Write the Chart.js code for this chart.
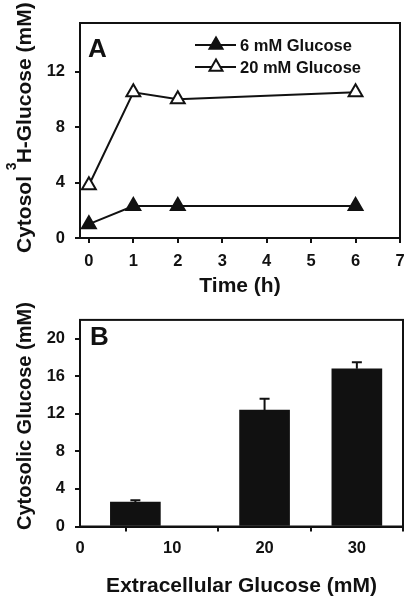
<!DOCTYPE html>
<html>
<head>
<meta charset="utf-8">
<script src="https://cdn.jsdelivr.net/npm/chart.js"></script>
<style>
  html, body { margin: 0; padding: 0; background: #fff; }
  canvas { display: block; }
</style>
</head>
<body>
<canvas id="chart-a" width="414" height="300"></canvas>
<canvas id="chart-b" width="414" height="301"></canvas>
<script>
// Panel A: cytosolic 3H-glucose over time
const timeHours = [0, 1, 2, 6];
const glucose6mM = [1.0, 2.3, 2.3, 2.3];
const glucose20mM = [3.8, 10.5, 10.0, 10.5];
const seriesLabelsA = ['6 mM Glucose', '20 mM Glucose'];
const timeTicks = [0, 1, 2, 3, 4, 5, 6, 7];
const cytosolTicksA = [0, 4, 8, 12];

// Panel B: cytosolic glucose vs extracellular glucose
const extracellularGlucose = [6, 20, 30];
const cytosolicGlucose = [2.6, 12.4, 16.8];
const cytosolicErr = [0.2, 1.2, 0.7];
const extracellularTicks = [0, 10, 20, 30];
const cytosolicTicksB = [0, 4, 8, 12, 16, 20];

const FONT = "'Liberation Sans', Arial, sans-serif";
const INK = '#111';
Chart.defaults.font.family = FONT;
Chart.defaults.font.weight = 'bold';
Chart.defaults.color = INK;
Chart.defaults.animation = false;

// axis with fixed tick list, outward tick marks, no grid
function axis(min, max, ticks, title, o) {
    return {
        type: 'linear',
        min: min,
        max: max,
        offset: false,
        afterBuildTicks: (s) => { s.ticks = ticks.map(v => ({ value: v })); },
        afterFit: o.fit,
        grid: { drawOnChartArea: false, drawTicks: true, tickLength: 5, color: INK, lineWidth: 2 },
        border: { display: true, color: INK, width: 2 },
        ticks: { font: { size: 16.5, weight: 'bold' }, padding: o.tickPad, color: INK },
        title: { display: !!title, text: title || '', font: { size: 21, weight: 'bold' }, padding: o.titlePad, color: INK }
    };
}

// box round the plot area
const framePlugin = {
    id: 'frame',
    afterDatasetsDraw(chart) {
        const { ctx, chartArea: a } = chart;
        ctx.save();
        ctx.strokeStyle = INK;
        ctx.lineWidth = 2;
        ctx.strokeRect(a.left, a.top, a.right - a.left, a.bottom - a.top);
        ctx.restore();
    }
};

function letter(text, x, y) {
    return {
        id: 'letter' + text,
        afterDraw(chart) {
            const ctx = chart.ctx;
            ctx.save();
            ctx.font = 'bold 26px ' + FONT;
            ctx.fillStyle = INK;
            ctx.textBaseline = 'alphabetic';
            ctx.fillText(text, x, y);
            ctx.restore();
        }
    };
}

// rotated y title, drawn piece by piece so a superscript can be raised
// parts: [text, sup?]
function yTitle(parts, baseX, startY, size) {
    return {
        id: 'yTitle',
        afterDraw(chart) {
            const ctx = chart.ctx;
            ctx.save();
            ctx.translate(baseX, startY);
            ctx.rotate(-Math.PI / 2);
            ctx.fillStyle = INK;
            ctx.textBaseline = 'alphabetic';
            let pos = 0;
            parts.forEach(([text, sup]) => {
                ctx.font = 'bold ' + (sup ? 14 : size) + 'px ' + FONT;
                ctx.fillText(text, pos, sup ? -15 : 0);
                pos += ctx.measureText(text).width - (sup ? 1 : 0);
            });
            ctx.restore();
        }
    };
}

function triangle(ctx, cx, cy, r) {
    ctx.beginPath();
    ctx.moveTo(cx, cy - r);
    ctx.lineTo(cx + r * Math.sin(2 * Math.PI / 3), cy + r / 2);
    ctx.lineTo(cx - r * Math.sin(2 * Math.PI / 3), cy + r / 2);
    ctx.closePath();
}

// legend: line segment with marker in the middle
const lineLegend = {
    id: 'lineLegend',
    afterDraw(chart) {
        const ctx = chart.ctx;
        chart.data.datasets.forEach((ds, i) => {
            const y = 45 + i * 22;
            ctx.save();
            ctx.strokeStyle = INK;
            ctx.lineWidth = 2;
            ctx.beginPath();
            ctx.moveTo(195, y);
            ctx.lineTo(236, y);
            ctx.stroke();
            triangle(ctx, 216, y, 7.5);
            ctx.fillStyle = ds.pointBackgroundColor;
            ctx.fill();
            ctx.stroke();
            ctx.font = 'bold 16.5px ' + FONT;
            ctx.fillStyle = INK;
            ctx.textBaseline = 'middle';
            ctx.fillText(ds.label, 240, y + 1);
            ctx.restore();
        });
    }
};

const errorBars = {
    id: 'errorBars',
    afterDatasetsDraw(chart) {
        const { ctx, scales: { x, y } } = chart;
        ctx.save();
        ctx.strokeStyle = INK;
        ctx.lineWidth = 2;
        extracellularGlucose.forEach((v, i) => {
            const px = x.getPixelForValue(v);
            const base = y.getPixelForValue(cytosolicGlucose[i]);
            const top = y.getPixelForValue(cytosolicGlucose[i] + cytosolicErr[i]);
            ctx.beginPath();
            ctx.moveTo(px, base);
            ctx.lineTo(px, top);
            ctx.moveTo(px - 5, top);
            ctx.lineTo(px + 5, top);
            ctx.stroke();
        });
        ctx.restore();
    }
};

const series = (ys) => timeHours.map((t, i) => ({ x: t, y: ys[i] }));

new Chart(document.getElementById('chart-a'), {
    type: 'line',
    data: {
        datasets: [
            {
                label: seriesLabelsA[0],
                data: series(glucose6mM),
                borderColor: INK,
                borderWidth: 2,
                pointStyle: 'triangle',
                pointRadius: 8,
                pointBorderWidth: 2,
                pointBorderColor: INK,
                pointBackgroundColor: INK
            },
            {
                label: seriesLabelsA[1],
                data: series(glucose20mM),
                borderColor: INK,
                borderWidth: 2,
                pointStyle: 'triangle',
                pointRadius: 8,
                pointBorderWidth: 2,
                pointBorderColor: INK,
                pointBackgroundColor: '#fff'
            }
        ]
    },
    options: {
        responsive: false,
        clip: false,
        layout: { padding: { top: 23, right: 14, bottom: 0, left: 0 } },
        plugins: { legend: { display: false }, tooltip: { enabled: false } },
        scales: {
            x: axis(-0.2, 7, timeTicks, 'Time (h)', {
                fit: (s) => { s.height = 62; }, tickPad: 9, titlePad: { top: 0, bottom: 1 }
            }),
            y: axis(0, 15.5, cytosolTicksA, null, {
                fit: (s) => { s.width = 80; }, tickPad: 10
            })
        }
    },
    plugins: [framePlugin, lineLegend, letter('A', 88, 57),
        yTitle([['Cytosol '], ['3', true], ['H-Glucose (mM)']], 31, 253, 21)]
});

new Chart(document.getElementById('chart-b'), {
    type: 'bar',
    data: {
        datasets: [{
            label: 'Cytosolic Glucose',
            data: extracellularGlucose.map((x, i) => ({ x: x, y: cytosolicGlucose[i] })),
            backgroundColor: INK,
            borderWidth: 0,
            barThickness: 50
        }]
    },
    options: {
        responsive: false,
        layout: { padding: { top: 10, right: 11, bottom: 0, left: 0 } },
        plugins: { legend: { display: false }, tooltip: { enabled: false } },
        scales: {
            x: axis(0, 35, extracellularTicks, 'Extracellular Glucose (mM)', {
                fit: (s) => { s.height = 74.5; }, tickPad: 7, titlePad: { top: 0, bottom: 2 }
            }),
            y: axis(0, 22, cytosolicTicksB, null, {
                fit: (s) => { s.width = 80; }, tickPad: 10
            })
        }
    },
    plugins: [framePlugin, errorBars, letter('B', 90, 45),
        yTitle([['Cytosolic Glucose (mM)']], 31, 230, 20)]
});
</script>
</body>
</html>
